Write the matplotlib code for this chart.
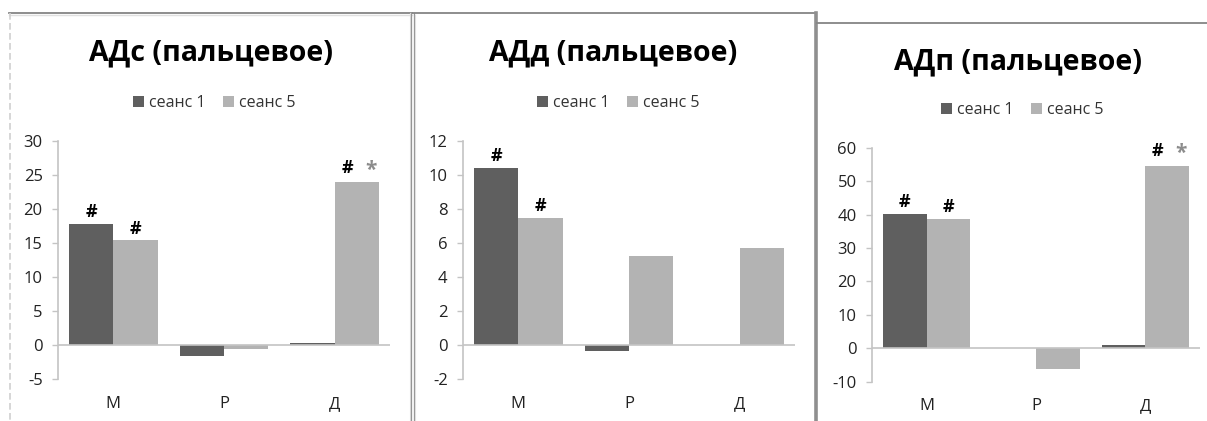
import matplotlib
matplotlib.use("Agg")
import matplotlib.pyplot as plt
from matplotlib.lines import Line2D
import numpy as np

plt.rcParams['font.family'] = ['Open Sans', 'DejaVu Sans']
plt.rcParams['axes.unicode_minus'] = False

W, H = 1207, 421

# categories and values for the three panels
cats = ['М', 'Р', 'Д']
series = ['сеанс 1', 'сеанс 5']

ads_s1 = [17.8, -1.6, 0.3]
ads_s5 = [15.4, -0.6, 23.9]

add_s1 = [10.4, -0.35, 0.0]
add_s5 = [7.5, 5.25, 5.7]

adp_s1 = [40.1, 0.0, 1.0]
adp_s5 = [38.7, -6.3, 54.6]

titles = ['АДс (пальцевое)', 'АДд (пальцевое)', 'АДп (пальцевое)']
yticks = [np.arange(-5, 31, 5), np.arange(-2, 13, 2), np.arange(-10, 61, 10)]

# significance marks: (series index, category index, text)
marks_ads = [(0, 0, '#'), (1, 0, '#'), (1, 2, '#*')]
marks_add = [(0, 0, '#'), (1, 0, '#')]
marks_adp = [(0, 0, '#'), (1, 0, '#'), (1, 2, '#*')]

dark = '#5f5f5f'
light = '#b3b3b3'
axis_col = '#c4c4c4'

fig = plt.figure(figsize=(W / 100, H / 100), dpi=100)


def fx(x):
    return x / W


def fy(y):
    return 1 - y / H


def fline(xs, ys, color, lw, ls='-'):
    fig.add_artist(Line2D([fx(v) for v in xs], [fy(v) for v in ys],
                          transform=fig.transFigure, color=color, lw=lw, ls=ls))


# panel frames
fline([9, 412], [13, 13], '#858585', 1.3)
fline([9, 412], [14.8, 14.8], '#e0e0e0', 1.0)
fline([9.5, 9.5], [13, 421], '#cfcfcf', 1.2, ls=(0, (4, 2)))
fline([409.5, 409.5], [13, 421], '#e0e0e0', 0.8)
fline([411, 411], [13, 421], '#959595', 0.9)
fline([413.5, 413.5], [13, 421], '#959595', 0.9)
fline([415, 415], [15, 421], '#e0e0e0', 0.8)
fline([413, 815], [13, 13], '#858585', 1.3)
fline([815.5, 815.5], [13, 421], '#8f8f8f', 2.6)
fline([817, 1207], [23, 23], '#858585', 1.3)

# plot areas in pixels: left, right, top, bottom
boxes = [(58, 390, 141, 379), (463, 795, 141, 379), (872, 1200, 147.7, 381.7)]
title_pos = [(211, 53), (613, 53), (1018, 62)]
legend_pos = [(214, 103), (618, 103), (1022, 110)]

panels = [(ads_s1, ads_s5, marks_ads), (add_s1, add_s5, marks_add),
          (adp_s1, adp_s5, marks_adp)]

x = np.arange(len(cats))
bw = 0.4

for i, (s1, s5, marks) in enumerate(panels):
    l, r, t, b = boxes[i]
    ax = fig.add_axes([fx(l), fy(b), (r - l) / W, (b - t) / H])
    ax.bar(x - bw / 2, s1, bw, color=dark, label=series[0])
    ax.bar(x + bw / 2, s5, bw, color=light, label=series[1])
    ax.axhline(0, color=axis_col, lw=1.2, zorder=3)

    ax.set_xlim(-0.5, 2.5)
    ax.set_ylim(yticks[i][0], yticks[i][-1])
    ax.set_yticks(yticks[i])
    ax.set_xticks(x)
    ax.set_xticklabels(cats)
    ax.tick_params(axis='x', length=0, pad=12, labelsize=12, colors='#222222')
    ax.tick_params(axis='y', length=4, width=1, color=axis_col, pad=7,
                   labelsize=12, labelcolor='#222222', direction='out')
    for side in ['top', 'right', 'bottom']:
        ax.spines[side].set_visible(False)
    ax.spines['left'].set_color(axis_col)
    ax.spines['left'].set_linewidth(1.2)

    for si, ci, txt in marks:
        vals = s1 if si == 0 else s5
        xc = x[ci] + (bw / 2 if si == 1 else -bw / 2)
        yv = vals[ci]
        if txt == '#*':
            ax.annotate('#', (xc, yv), xytext=(-7, 4), textcoords='offset points',
                        ha='center', va='bottom', fontsize=13, fontweight='bold',
                        color='black')
            ax.annotate('*', (xc, yv), xytext=(10, 1), textcoords='offset points',
                        ha='center', va='bottom', fontsize=15, fontweight='bold',
                        color='#8c8c8c')
        else:
            ax.annotate(txt, (xc, yv), xytext=(0, 2), textcoords='offset points',
                        ha='center', va='bottom', fontsize=13, fontweight='bold',
                        color='black')

    tx, ty = title_pos[i]
    fig.text(fx(tx), fy(ty), titles[i], ha='center', va='center',
             fontsize=20.5, fontweight='bold', color='black')

    lx, ly = legend_pos[i]
    ax.legend(loc='center', bbox_to_anchor=(fx(lx), fy(ly)),
              bbox_transform=fig.transFigure, ncol=2, frameon=False,
              fontsize=11.5, handlelength=0.7, handleheight=0.7,
              handletextpad=0.3, columnspacing=1.1, labelcolor='#333333')

fig.savefig('out.png', dpi=100, facecolor='white')
